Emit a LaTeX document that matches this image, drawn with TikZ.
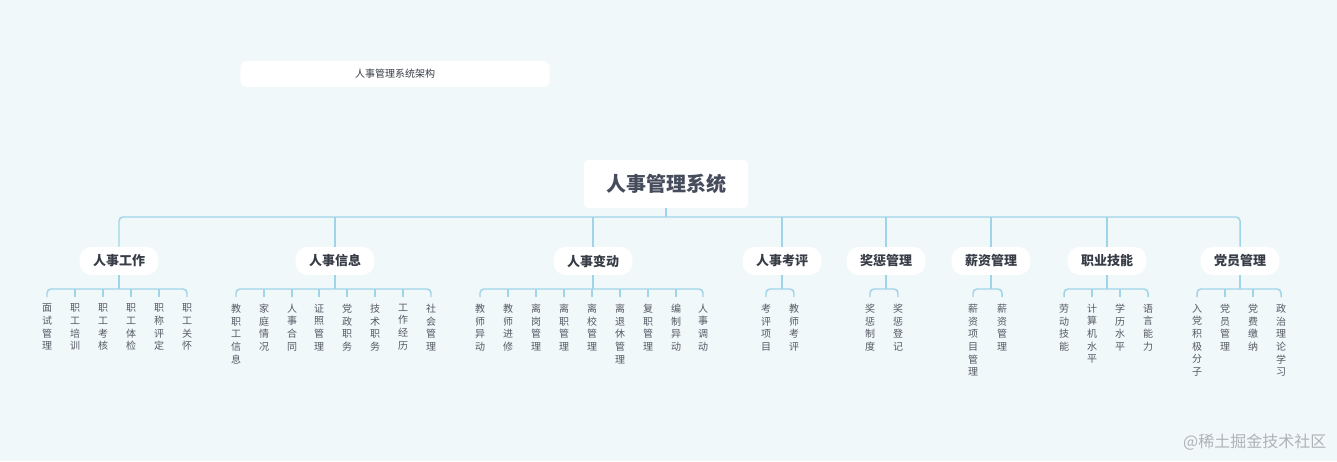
\documentclass[tikz,border=0pt]{standalone}
\usepackage{fontspec}
\setmainfont{Noto Sans CJK SC}
\begin{document}
\begin{tikzpicture}[x=0.75pt,y=-0.75pt,
  conn/.style={draw=linec, line width=1.1pt, rounded corners=3pt},
  rootbox/.style={fill=white, rounded corners=3pt, minimum width=123pt, minimum height=36pt, inner sep=0pt, text=rootc, font=\fontsize{15}{18}\selectfont\bfseries},
  grp/.style={fill=white, rounded corners=9pt, minimum width=59pt, minimum height=21pt, inner sep=0pt, text=grpc, font=\fontsize{9.75}{12}\selectfont\bfseries},
  leaf/.style={anchor=north, align=center, inner xsep=0pt, inner ysep=5pt, text=leafc, font=\fontsize{7.5}{9.5}\selectfont},
  titlebox/.style={fill=white, rounded corners=5pt, minimum width=232pt, minimum height=19.5pt, inner sep=0pt, text=grpc, font=\fontsize{7.5}{9}\selectfont},
]
\definecolor{bgc}{RGB}{240,248,250}
\definecolor{linec}{RGB}{160,212,232}
\definecolor{rootc}{RGB}{70,76,92}
\definecolor{grpc}{RGB}{55,60,70}
\definecolor{leafc}{RGB}{85,90,100}
\definecolor{wmc}{RGB}{175,178,182}
\useasboundingbox (0,0) rectangle (1337,461);
\fill[bgc] (0,0) rectangle (1337,461);

\node[titlebox] (title) at (395,74) {人事管理系统架构};
\node[rootbox] (root) at (666,184) {人事管理系统};
\node[text=wmc, font=\fontsize{12}{14}\selectfont, anchor=east] (wm) at (1331,442) {@稀土掘金技术社区};

% groups
\node[grp] (g1) at (119,261) {人事工作};
\node[grp] (g2) at (335,261) {人事信息};
\node[grp] (g3) at (593,261) {人事变动};
\node[grp] (g4) at (782,261) {人事考评};
\node[grp] (g5) at (886,261) {奖惩管理};
\node[grp] (g6) at (991,261) {薪资管理};
\node[grp] (g7) at (1107,261) {职业技能};
\node[grp] (g8) at (1240,261) {党员管理};

\coordinate (top) at (666,217);
\draw[conn] (g1.north) |- (top) -| (g8.north);
\foreach \g in {g2,g3,g4,g5,g6,g7} \draw[conn] (\g.north) -- (\g.north |- top);
\draw[conn] (root.south) -- (top);

% leaves y top
\def\ly{297}
% group 1
\node[leaf] (a1) at (47,\ly) {面\\试\\管\\理};
\node[leaf] (a2) at (75,\ly) {职\\工\\培\\训};
\node[leaf] (a3) at (103,\ly) {职\\工\\考\\核};
\node[leaf] (a4) at (131,\ly) {职\\工\\体\\检};
\node[leaf] (a5) at (159,\ly) {职\\称\\评\\定};
\node[leaf] (a6) at (187,\ly) {职\\工\\关\\怀};
% group 2
\node[leaf] (b1) at (236,\ly) {教\\职\\工\\信\\息};
\node[leaf] (b2) at (264,\ly) {家\\庭\\情\\况};
\node[leaf] (b3) at (292,\ly) {人\\事\\合\\同};
\node[leaf] (b4) at (319,\ly) {证\\照\\管\\理};
\node[leaf] (b5) at (347,\ly) {党\\政\\职\\务};
\node[leaf] (b6) at (375,\ly) {技\\术\\职\\务};
\node[leaf] (b7) at (403,\ly) {工\\作\\经\\历};
\node[leaf] (b8) at (431,\ly) {社\\会\\管\\理};
% group 3
\node[leaf] (c1) at (480,\ly) {教\\师\\异\\动};
\node[leaf] (c2) at (508,\ly) {教\\师\\进\\修};
\node[leaf] (c3) at (536,\ly) {离\\岗\\管\\理};
\node[leaf] (c4) at (564,\ly) {离\\职\\管\\理};
\node[leaf] (c5) at (592,\ly) {离\\校\\管\\理};
\node[leaf] (c6) at (620,\ly) {离\\退\\休\\管\\理};
\node[leaf] (c7) at (648,\ly) {复\\职\\管\\理};
\node[leaf] (c8) at (676,\ly) {编\\制\\异\\动};
\node[leaf] (c9) at (703,\ly) {人\\事\\调\\动};
% group 4
\node[leaf] (d1) at (766,\ly) {考\\评\\项\\目};
\node[leaf] (d2) at (794,\ly) {教\\师\\考\\评};
% group 5
\node[leaf] (e1) at (870,\ly) {奖\\惩\\制\\度};
\node[leaf] (e2) at (898,\ly) {奖\\惩\\登\\记};
% group 6
\node[leaf] (f1) at (973,\ly) {薪\\资\\项\\目\\管\\理};
\node[leaf] (f2) at (1002,\ly) {薪\\资\\管\\理};
% group 7
\node[leaf] (h1) at (1064,\ly) {劳\\动\\技\\能};
\node[leaf] (h2) at (1092,\ly) {计\\算\\机\\水\\平};
\node[leaf] (h3) at (1120,\ly) {学\\历\\水\\平};
\node[leaf] (h4) at (1148,\ly) {语\\言\\能\\力};
% group 8
\node[leaf] (k1) at (1197,\ly) {入\\党\\积\\极\\分\\子};
\node[leaf] (k2) at (1225,\ly) {党\\员\\管\\理};
\node[leaf] (k3) at (1253,\ly) {党\\费\\缴\\纳};
\node[leaf] (k4) at (1281,\ly) {政\\治\\理\\论\\学\\习};

% group-to-leaf connectors
\def\by{289}
\coordinate (t1) at (119,\by);
\draw[conn] (g1.south) -- (t1);
\draw[conn] (a1.north) |- (t1) -| (a6.north);
\foreach \n in {a2,a3,a4,a5} \draw[conn] (\n.north) -- (\n.north |- t1);

\coordinate (t2) at (335,\by);
\draw[conn] (g2.south) -- (t2);
\draw[conn] (b1.north) |- (t2) -| (b8.north);
\foreach \n in {b2,b3,b4,b5,b6,b7} \draw[conn] (\n.north) -- (\n.north |- t2);

\coordinate (t3) at (593,\by);
\draw[conn] (g3.south) -- (t3);
\draw[conn] (c1.north) |- (t3) -| (c9.north);
\foreach \n in {c2,c3,c4,c5,c6,c7,c8} \draw[conn] (\n.north) -- (\n.north |- t3);

\coordinate (t4) at (782,\by);
\draw[conn] (g4.south) -- (t4);
\draw[conn] (d1.north) |- (t4) -| (d2.north);

\coordinate (t5) at (886,\by);
\draw[conn] (g5.south) -- (t5);
\draw[conn] (e1.north) |- (t5) -| (e2.north);

\coordinate (t6) at (991,\by);
\draw[conn] (g6.south) -- (t6);
\draw[conn] (f1.north) |- (t6) -| (f2.north);

\coordinate (t7) at (1107,\by);
\draw[conn] (g7.south) -- (t7);
\draw[conn] (h1.north) |- (t7) -| (h4.north);
\foreach \n in {h2,h3} \draw[conn] (\n.north) -- (\n.north |- t7);

\coordinate (t8) at (1240,\by);
\draw[conn] (g8.south) -- (t8);
\draw[conn] (k1.north) |- (t8) -| (k4.north);
\foreach \n in {k2,k3} \draw[conn] (\n.north) -- (\n.north |- t8);
\end{tikzpicture}
\end{document}
